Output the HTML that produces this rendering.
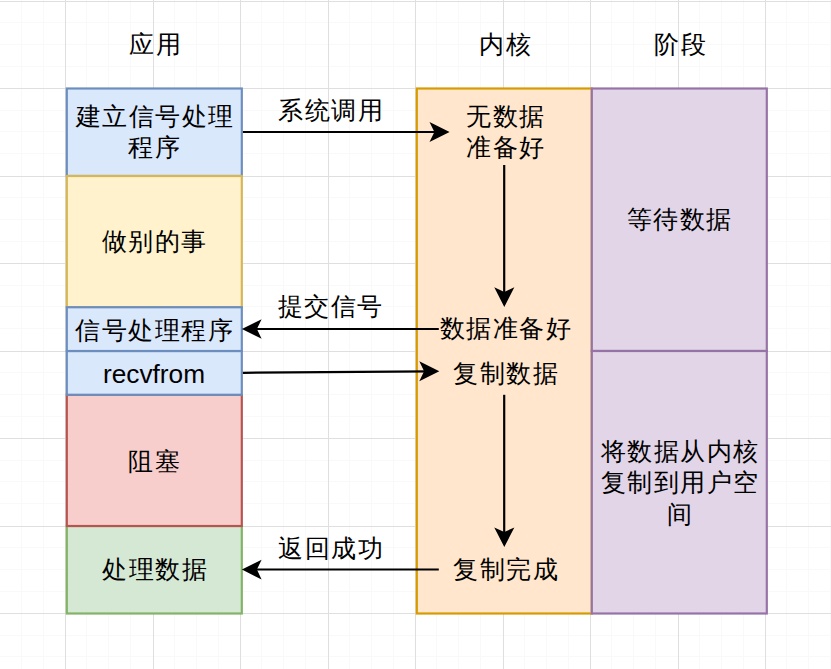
<!DOCTYPE html><html><head><meta charset="utf-8"><style>html,body{margin:0;padding:0;background:#fff;}svg{display:block;}text{font-family:"Liberation Sans",sans-serif;font-size:26.25px;fill:#000;}text.c{font-size:25px;letter-spacing:1.5px;}</style></head><body>
<svg width="831" height="669" viewBox="0 0 831 669">
<rect x="0" y="0" width="831" height="669" fill="#ffffff"/>
<rect x="21" y="0" width="1" height="669" fill="#f9f9f9"/>
<rect x="43" y="0" width="1" height="669" fill="#f9f9f9"/>
<rect x="86" y="0" width="1" height="669" fill="#f9f9f9"/>
<rect x="108" y="0" width="1" height="669" fill="#f9f9f9"/>
<rect x="130" y="0" width="1" height="669" fill="#f9f9f9"/>
<rect x="174" y="0" width="1" height="669" fill="#f9f9f9"/>
<rect x="196" y="0" width="1" height="669" fill="#f9f9f9"/>
<rect x="218" y="0" width="1" height="669" fill="#f9f9f9"/>
<rect x="261" y="0" width="1" height="669" fill="#f9f9f9"/>
<rect x="283" y="0" width="1" height="669" fill="#f9f9f9"/>
<rect x="305" y="0" width="1" height="669" fill="#f9f9f9"/>
<rect x="349" y="0" width="1" height="669" fill="#f9f9f9"/>
<rect x="371" y="0" width="1" height="669" fill="#f9f9f9"/>
<rect x="393" y="0" width="1" height="669" fill="#f9f9f9"/>
<rect x="436" y="0" width="1" height="669" fill="#f9f9f9"/>
<rect x="458" y="0" width="1" height="669" fill="#f9f9f9"/>
<rect x="480" y="0" width="1" height="669" fill="#f9f9f9"/>
<rect x="524" y="0" width="1" height="669" fill="#f9f9f9"/>
<rect x="546" y="0" width="1" height="669" fill="#f9f9f9"/>
<rect x="568" y="0" width="1" height="669" fill="#f9f9f9"/>
<rect x="611" y="0" width="1" height="669" fill="#f9f9f9"/>
<rect x="633" y="0" width="1" height="669" fill="#f9f9f9"/>
<rect x="655" y="0" width="1" height="669" fill="#f9f9f9"/>
<rect x="699" y="0" width="1" height="669" fill="#f9f9f9"/>
<rect x="721" y="0" width="1" height="669" fill="#f9f9f9"/>
<rect x="743" y="0" width="1" height="669" fill="#f9f9f9"/>
<rect x="786" y="0" width="1" height="669" fill="#f9f9f9"/>
<rect x="808" y="0" width="1" height="669" fill="#f9f9f9"/>
<rect x="830" y="0" width="1" height="669" fill="#f9f9f9"/>
<rect x="0" y="22" width="831" height="1" fill="#f9f9f9"/>
<rect x="0" y="44" width="831" height="1" fill="#f9f9f9"/>
<rect x="0" y="66" width="831" height="1" fill="#f9f9f9"/>
<rect x="0" y="110" width="831" height="1" fill="#f9f9f9"/>
<rect x="0" y="131" width="831" height="1" fill="#f9f9f9"/>
<rect x="0" y="153" width="831" height="1" fill="#f9f9f9"/>
<rect x="0" y="197" width="831" height="1" fill="#f9f9f9"/>
<rect x="0" y="219" width="831" height="1" fill="#f9f9f9"/>
<rect x="0" y="241" width="831" height="1" fill="#f9f9f9"/>
<rect x="0" y="285" width="831" height="1" fill="#f9f9f9"/>
<rect x="0" y="306" width="831" height="1" fill="#f9f9f9"/>
<rect x="0" y="328" width="831" height="1" fill="#f9f9f9"/>
<rect x="0" y="372" width="831" height="1" fill="#f9f9f9"/>
<rect x="0" y="394" width="831" height="1" fill="#f9f9f9"/>
<rect x="0" y="416" width="831" height="1" fill="#f9f9f9"/>
<rect x="0" y="460" width="831" height="1" fill="#f9f9f9"/>
<rect x="0" y="481" width="831" height="1" fill="#f9f9f9"/>
<rect x="0" y="503" width="831" height="1" fill="#f9f9f9"/>
<rect x="0" y="547" width="831" height="1" fill="#f9f9f9"/>
<rect x="0" y="569" width="831" height="1" fill="#f9f9f9"/>
<rect x="0" y="591" width="831" height="1" fill="#f9f9f9"/>
<rect x="0" y="635" width="831" height="1" fill="#f9f9f9"/>
<rect x="0" y="656" width="831" height="1" fill="#f9f9f9"/>
<rect x="65" y="0" width="1" height="669" fill="#dfdfdf"/>
<rect x="153" y="0" width="1" height="669" fill="#dfdfdf"/>
<rect x="240" y="0" width="1" height="669" fill="#dfdfdf"/>
<rect x="328" y="0" width="1" height="669" fill="#dfdfdf"/>
<rect x="415" y="0" width="1" height="669" fill="#dfdfdf"/>
<rect x="503" y="0" width="1" height="669" fill="#dfdfdf"/>
<rect x="590" y="0" width="1" height="669" fill="#dfdfdf"/>
<rect x="678" y="0" width="1" height="669" fill="#dfdfdf"/>
<rect x="765" y="0" width="1" height="669" fill="#dfdfdf"/>
<rect x="0" y="1" width="831" height="1" fill="#dfdfdf"/>
<rect x="0" y="88" width="831" height="1" fill="#dfdfdf"/>
<rect x="0" y="176" width="831" height="1" fill="#dfdfdf"/>
<rect x="0" y="263" width="831" height="1" fill="#dfdfdf"/>
<rect x="0" y="351" width="831" height="1" fill="#dfdfdf"/>
<rect x="0" y="438" width="831" height="1" fill="#dfdfdf"/>
<rect x="0" y="526" width="831" height="1" fill="#dfdfdf"/>
<rect x="0" y="613" width="831" height="1" fill="#dfdfdf"/>
<rect x="416.8" y="88.5" width="175.000" height="525.000" fill="#ffe6cc" stroke="#d79b00" stroke-width="2.19"/>
<rect x="591.8" y="88.5" width="175.000" height="262.500" fill="#e1d5e7" stroke="#9673a6" stroke-width="2.19"/>
<rect x="591.8" y="351.0" width="175.000" height="262.500" fill="#e1d5e7" stroke="#9673a6" stroke-width="2.19"/>
<rect x="66.8" y="88.5" width="175.000" height="87.500" fill="#dae8fc" stroke="#6c8ebf" stroke-width="2.19"/>
<rect x="66.8" y="176.0" width="175.000" height="131.250" fill="#fff2cc" stroke="#d6b656" stroke-width="2.19"/>
<rect x="66.8" y="526.0" width="175.000" height="87.500" fill="#d5e8d4" stroke="#82b366" stroke-width="2.19"/>
<rect x="66.8" y="394.75" width="175.000" height="131.250" fill="#f8cecc" stroke="#b85450" stroke-width="2.19"/>
<rect x="66.8" y="351.0" width="175.000" height="43.750" fill="#dae8fc" stroke="#6c8ebf" stroke-width="2.19"/>
<rect x="66.8" y="307.25" width="175.000" height="43.750" fill="#dae8fc" stroke="#6c8ebf" stroke-width="2.19"/>
<path d="M242.9,132.0 L440,132.0" fill="none" stroke="#000" stroke-width="2.19"/>
<path d="M449.60,132.00 L429.50,122.10 L434.40,132.00 L429.50,141.90 Z" fill="#000" stroke="none"/>
<path d="M504.2,165.0 L504.2,297" fill="none" stroke="#000" stroke-width="2.19"/>
<path d="M504.30,306.90 L494.25,287.20 L504.30,291.90 L514.35,287.20 Z" fill="#000" stroke="none"/>
<path d="M252,329 L438.8,329" fill="none" stroke="#000" stroke-width="2.19"/>
<path d="M241.90,329.00 L261.60,319.15 L256.90,329.00 L261.60,338.85 Z" fill="#000" stroke="none"/>
<path d="M242.9,372.8 L430,371.4" fill="none" stroke="#000" stroke-width="2.19"/>
<path d="M439.30,371.20 L419.30,361.25 L424.10,371.20 L419.30,381.15 Z" fill="#000" stroke="none"/>
<path d="M504.2,394.8 L504.2,537" fill="none" stroke="#000" stroke-width="2.19"/>
<path d="M504.30,547.10 L494.25,527.40 L504.30,532.10 L514.35,527.40 Z" fill="#000" stroke="none"/>
<path d="M252,569.5 L438.8,569.5" fill="none" stroke="#000" stroke-width="2.19"/>
<path d="M241.90,569.60 L261.60,559.75 L256.90,569.60 L261.60,579.45 Z" fill="#000" stroke="none"/>
<text class="c" x="155.75" y="53.40" text-anchor="middle">应用</text>
<text class="c" x="505.85" y="52.90" text-anchor="middle">内核</text>
<text class="c" x="680.65" y="52.90" text-anchor="middle">阶段</text>
<text class="c" x="155.00" y="124.75" text-anchor="middle">建立信号处理</text>
<text class="c" x="154.70" y="156.40" text-anchor="middle">程序</text>
<text class="c" x="331.15" y="118.95" text-anchor="middle">系统调用</text>
<text class="c" x="506.00" y="125.20" text-anchor="middle">无数据</text>
<text class="c" x="506.05" y="156.05" text-anchor="middle">准备好</text>
<text class="c" x="679.55" y="227.55" text-anchor="middle">等待数据</text>
<text class="c" x="154.90" y="250.35" text-anchor="middle">做别的事</text>
<text class="c" x="330.65" y="315.00" text-anchor="middle">提交信号</text>
<text class="c" x="505.75" y="337.10" text-anchor="middle">数据准备好</text>
<text class="c" x="154.90" y="338.60" text-anchor="middle">信号处理程序</text>
<text class="c" x="506.30" y="382.05" text-anchor="middle">复制数据</text>
<text class="c" x="680.10" y="459.75" text-anchor="middle">将数据从内核</text>
<text class="c" x="680.10" y="490.65" text-anchor="middle">复制到用户空</text>
<text class="c" x="679.90" y="522.65" text-anchor="middle">间</text>
<text class="c" x="154.90" y="469.70" text-anchor="middle">阻塞</text>
<text class="c" x="331.10" y="557.35" text-anchor="middle">返回成功</text>
<text class="c" x="506.30" y="577.90" text-anchor="middle">复制完成</text>
<text class="c" x="155.25" y="577.60" text-anchor="middle">处理数据</text>
<text x="154" y="382.9" text-anchor="middle">recvfrom</text>
</svg></body></html>
